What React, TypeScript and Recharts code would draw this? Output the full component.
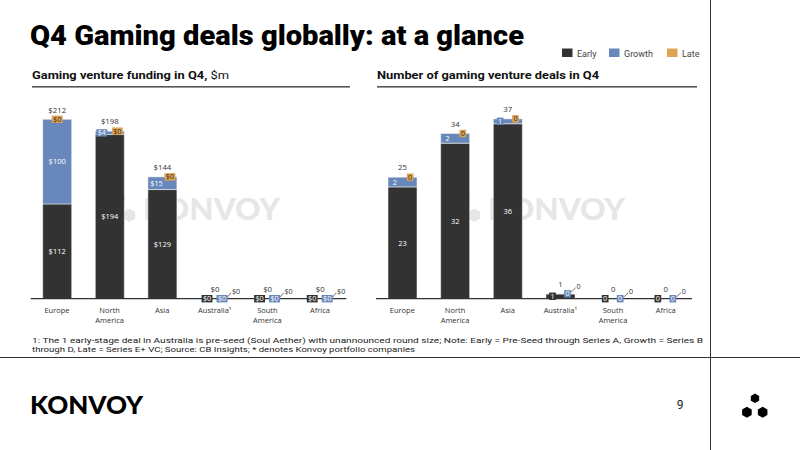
import React from 'react';
import { BarChart, Bar, XAxis, YAxis, LabelList } from 'recharts';

// ---- data ----
const regions = ['Europe', 'North America', 'Asia', 'Australia¹', 'South America', 'Africa'];
const fundingEarly = [112, 194, 129, 0, 0, 0];
const fundingGrowth = [100, 4, 15, 0, 0, 0];
const fundingLate = [0, 0, 0, 0, 0, 0];
const dealsEarly = [23, 32, 36, 1, 0, 0];
const dealsGrowth = [2, 2, 1, 0, 0, 0];
const dealsLate = [0, 0, 0, 0, 0, 0];
const stageNames = ['Early', 'Growth', 'Late'];

const EARLY = '#323232';
const GROWTH = '#6887ba';
const LATE = '#e0a352';
const STAGE_COLORS = [EARLY, GROWTH, LATE];

const buildRows = (early: number[], growth: number[], late: number[]) =>
  regions.map((region, i) => ({
    region,
    early: early[i],
    growth: growth[i],
    late: late[i],
    total: early[i] + growth[i] + late[i],
  }));

const fundingRows = buildRows(fundingEarly, fundingGrowth, fundingLate);
const dealsRows = buildRows(dealsEarly, dealsGrowth, dealsLate);

// ---- geometry shared by both panels ----
const CHART_W = 360;
const CHART_H = 340;
const AXIS_H = 30;
const BOTTOM = 11.3;
const BASE_Y = CHART_H - BOTTOM - AXIS_H;
const FLAT = 10; // stacks shorter than this get their labels spread out sideways
const HAIR = 0.01; // keeps empty slices in the layout so their tags still render

const LABEL_FONT = 'Open Sans, sans-serif';
const HEAD_FONT = 'Roboto, sans-serif';

type PanelCfg = {
  prefix: string;
  growthInset: number;
  lateInset: number;
  lateDx: number;
};

const geom = (p: any) => {
  const vb = p.viewBox || {};
  const x = Number(p.x ?? vb.x ?? 0);
  const y = Number(p.y ?? vb.y ?? 0);
  const width = Number(p.width ?? vb.width ?? 0);
  const height = Number(p.height ?? vb.height ?? 0);
  return { x, y, width, height, cx: x + width / 2 };
};

const tagWidth = (t: string) => t.length * 4.2 + 2.5;

const Tag = ({ cx, cy, text, fill, ink = '#ffffff' }: { cx: number; cy: number; text: string; fill: string; ink?: string }) => {
  const w = tagWidth(text);
  const h = 7.4;
  return (
    <g>
      <rect x={cx - w / 2} y={cy - h / 2} width={w} height={h} fill={fill} />
      <text x={cx} y={cy + 2.5} textAnchor="middle" fontSize={7.2} fontFamily={LABEL_FONT} fill={ink}>
        {text}
      </text>
    </g>
  );
};

const RegionTick = (props: any) => {
  const { x, y, payload } = props;
  const value: string = payload.value;
  const lines = value.includes(' ') ? value.split(' ') : [value];
  return (
    <text x={x} y={y + 14} textAnchor="middle" fontSize={7.5} fontFamily={LABEL_FONT} fill="#333">
      {lines.map((l, i) => (
        <tspan key={i} x={x} dy={i === 0 ? 0 : 10}>
          {l}
        </tspan>
      ))}
    </text>
  );
};

type PanelProps = {
  rows: any[];
  domainMax: number;
  margin: { top: number; right: number; bottom: number; left: number };
  cfg: PanelCfg;
};

const Panel = ({ rows, domainMax, margin, cfg }: PanelProps) => {
  const fmt = (v: any) => `${cfg.prefix}${v}`;
  const scale = (BASE_Y - margin.top) / domainMax;

  const earlyLabel = (p: any) => {
    const { y, height, cx } = geom(p);
    const text = fmt(p.value);
    if (BASE_Y - y < FLAT) return <Tag cx={cx - 8} cy={y + height / 2} text={text} fill={EARLY} />;
    return (
      <text x={cx} y={y + height / 2 + 2.7} textAnchor="middle" fontSize={7.5} fontFamily={LABEL_FONT} fill="#ffffff">
        {text}
      </text>
    );
  };

  const growthLabel = (p: any) => {
    const { x, y, height, cx } = geom(p);
    const text = fmt(p.value);
    if (BASE_Y - y < FLAT) return <Tag cx={cx + 7} cy={y + height / 2} text={text} fill={GROWTH} />;
    if (height < 15)
      return <Tag cx={x + cfg.growthInset + tagWidth(text) / 2} cy={y + height / 2} text={text} fill={GROWTH} />;
    return (
      <text x={cx} y={y + height / 2 + 2.7} textAnchor="middle" fontSize={7.5} fontFamily={LABEL_FONT} fill="#ffffff">
        {text}
      </text>
    );
  };

  const lateLabel = (p: any) => {
    const { x, y, width, cx } = geom(p);
    const text = fmt(p.value);
    const w = tagWidth(text);
    if (BASE_Y - y < FLAT) {
      const tx = cx + cfg.lateDx;
      return (
        <g>
          <line x1={cx + 7 + w / 2} y1={y - 1.5} x2={tx - w / 2 + 0.5} y2={y - 6} stroke="#333" strokeWidth={0.7} />
          <text x={tx} y={y - 7 + 2.6} textAnchor="middle" fontSize={7.2} fontFamily={LABEL_FONT} fill="#333">
            {text}
          </text>
        </g>
      );
    }
    const row = rows[p.index];
    const growthPx = row ? row.growth * scale : 99;
    const tx = growthPx < 15 ? x + width - cfg.lateInset - w / 2 : cx;
    return <Tag cx={tx} cy={y} text={text} fill={LATE} ink="#2a2a2a" />;
  };

  const totalLabel = (p: any) => {
    const { y, cx } = geom(p);
    return (
      <text x={cx} y={y - 9.6 + 2.8} textAnchor="middle" fontSize={7.8} fontFamily={LABEL_FONT} fill="#333">
        {fmt(p.value)}
      </text>
    );
  };

  return (
    <BarChart width={CHART_W} height={CHART_H} data={rows} margin={margin} barSize={29}>
      <XAxis
        dataKey="region"
        interval={0}
        height={AXIS_H}
        tickLine={false}
        tickSize={0}
        tickMargin={0}
        axisLine={{ stroke: '#333', strokeWidth: 1.2 }}
        tick={<RegionTick />}
      />
      <YAxis hide domain={[0, domainMax]} />
      <Bar dataKey="early" stackId="s" fill={EARLY} stroke="#ffffff" strokeWidth={0.5} minPointSize={HAIR} isAnimationActive={false}>
        <LabelList dataKey="early" content={earlyLabel} />
      </Bar>
      <Bar dataKey="growth" stackId="s" fill={GROWTH} stroke="#ffffff" strokeWidth={0.5} minPointSize={HAIR} isAnimationActive={false}>
        <LabelList dataKey="growth" content={growthLabel} />
      </Bar>
      <Bar dataKey="late" stackId="s" fill={LATE} minPointSize={HAIR} isAnimationActive={false}>
        <LabelList dataKey="late" content={lateLabel} />
        <LabelList dataKey="total" content={totalLabel} />
      </Bar>
    </BarChart>
  );
};

const blobPath = (cx: number, cy: number, r: number) => {
  const pts: string[] = [];
  for (let i = 0; i < 6; i++) {
    const a = (Math.PI / 3) * i + Math.PI / 6;
    pts.push(`${(cx + r * Math.cos(a)).toFixed(2)},${(cy + r * Math.sin(a)).toFixed(2)}`);
  }
  return pts.join(' ');
};

const Emblem = ({ x, y, s, fill }: { x: number; y: number; s: number; fill: string }) => (
  <g fill={fill} stroke={fill} strokeWidth={2 * s} strokeLinejoin="round">
    <polygon points={blobPath(x, y - 8 * s, 4.2 * s)} />
    <polygon points={blobPath(x - 9 * s, y + 7.5 * s, 5 * s)} />
    <polygon points={blobPath(x + 8.5 * s, y + 7.5 * s, 5 * s)} />
  </g>
);

const Watermark = ({ x }: { x: number }) => (
  <g>
    <Emblem x={x - 23} y={207} s={1.1} fill="#e6e6e6" />
    <text x={x} y={220} fontFamily="Lato, sans-serif" fontWeight={900} fontSize={31} fill="#e6e6e6" textLength={137} lengthAdjust="spacingAndGlyphs">
      KONVOY
    </text>
  </g>
);

export default function App() {
  const legendX = [562, 609, 667];
  return (
    <div style={{ position: 'fixed', left: 0, top: 0, width: 800, height: 450, background: '#ffffff', overflow: 'hidden' }}>
      <svg width={800} height={450} style={{ position: 'absolute', left: 0, top: 0 }}>
        <text x={30} y={45} fontFamily={HEAD_FONT} fontWeight={900} fontSize={28} fill="#000" textLength={494} lengthAdjust="spacingAndGlyphs">
          Q4 Gaming deals globally: at a glance
        </text>

        {stageNames.map((name, i) => (
          <g key={name}>
            <rect x={legendX[i]} y={48.5} width={10.5} height={8.5} fill={STAGE_COLORS[i]} />
            <text x={legendX[i] + 15} y={56.5} fontFamily={HEAD_FONT} fontSize={9} fill="#444">
              {name}
            </text>
          </g>
        ))}

        <text x={32} y={79} fontFamily={HEAD_FONT} fontSize={10.5} fill="#111" textLength={197} lengthAdjust="spacingAndGlyphs">
          <tspan fontWeight={700}>Gaming venture funding in Q4,</tspan>
          <tspan fontWeight={400}> $m</tspan>
        </text>
        <rect x={32} y={86} width={318} height={1.6} fill="#555" />
        <text x={377} y={79} fontFamily={HEAD_FONT} fontWeight={700} fontSize={10.5} fill="#111" textLength={222} lengthAdjust="spacingAndGlyphs">
          Number of gaming venture deals in Q4
        </text>
        <rect x={377} y={86} width={320} height={1.6} fill="#555" />

        <Watermark x={143} />
        <Watermark x={488} />

        <text x={32} y={343} fontFamily={HEAD_FONT} fontSize={7.5} fill="#222" textLength={671} lengthAdjust="spacingAndGlyphs">
          1: The 1 early-stage deal in Australia is pre-seed (Soul Aether) with unannounced round size; Note: Early = Pre-Seed through Series A, Growth = Series B
        </text>
        <text x={32} y={352} fontFamily={HEAD_FONT} fontSize={7.5} fill="#222" textLength={383} lengthAdjust="spacingAndGlyphs">
          through D, Late = Series E+ VC; Source: CB Insights; * denotes Konvoy portfolio companies
        </text>
        <line x1={0} y1={357.5} x2={800} y2={357.5} stroke="#333" strokeWidth={1} />
        <line x1={710.5} y1={0} x2={710.5} y2={450} stroke="#333" strokeWidth={1} />

        <text x={30} y={414} fontFamily="Lato, sans-serif" fontWeight={900} fontSize={24} fill="#000" textLength={113} lengthAdjust="spacingAndGlyphs">
          KONVOY
        </text>
        <text x={680} y={409} textAnchor="middle" fontFamily={HEAD_FONT} fontSize={12} fill="#222">
          9
        </text>
        <Emblem x={755} y={405.5} s={0.9} fill="#000" />
      </svg>

      <div style={{ position: 'absolute', left: 0, top: 0 }}>
        <Panel
          rows={fundingRows}
          domainMax={280}
          margin={{ top: 61.8, right: 13.7, bottom: BOTTOM, left: 30.7 }}
          cfg={{ prefix: '$', growthInset: 1, lateInset: 1.5, lateDx: 21 }}
        />
      </div>
      <div style={{ position: 'absolute', left: 350, top: 0 }}>
        <Panel
          rows={dealsRows}
          domainMax={48}
          margin={{ top: 65.4, right: 18, bottom: BOTTOM, left: 26 }}
          cfg={{ prefix: '', growthInset: 3.5, lateInset: 3.5, lateDx: 18 }}
        />
      </div>
    </div>
  );
}
